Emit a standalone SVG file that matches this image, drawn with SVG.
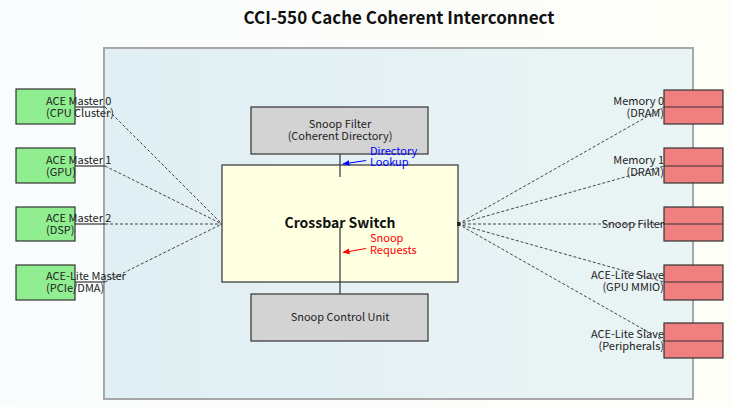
<svg xmlns="http://www.w3.org/2000/svg" width="731" height="407" viewBox="0 0 731 407">
<defs>
<linearGradient id="bg" x1="0" y1="0" x2="1" y2="0"><stop offset="0" stop-color="#f9fcfd"/><stop offset="1" stop-color="#fefef8"/></linearGradient>
<linearGradient id="cont" x1="0" y1="0" x2="1" y2="0"><stop offset="0" stop-color="#e0eff4"/><stop offset="1" stop-color="#eaf4f4"/></linearGradient>
<marker id="ab" viewBox="0 0 10 10" refX="9" refY="5" markerWidth="6" markerHeight="6" orient="auto"><path d="M0,1 L10,5 L0,9 z" fill="#0000ff"/></marker>
<marker id="ar" viewBox="0 0 10 10" refX="9" refY="5" markerWidth="6" markerHeight="6" orient="auto"><path d="M0,1 L10,5 L0,9 z" fill="#ff0000"/></marker>
</defs>
<style>
text{font-family:"Noto Sans CJK SC","Noto Sans",sans-serif;fill:#222;}
.t{font-size:11px;}
.box{stroke:#333;stroke-width:1.2;}
.m{fill:#90ee90;}
.s{fill:#f08080;}
.g{fill:#d3d3d3;}
.d{stroke:#444;stroke-width:1;stroke-dasharray:3,2;fill:none;}
.l{stroke:#333;stroke-width:1.2;fill:none;}
</style>
<rect x="0" y="0" width="731" height="407" fill="url(#bg)"/>
<text x="399" y="24" text-anchor="middle" style="font-size:17px;font-weight:bold;fill:#111">CCI-550 Cache Coherent Interconnect</text>
<g id="container"><rect x="104" y="48" width="589" height="351" fill="url(#cont)" stroke="#a8a8a8" stroke-width="2"/></g>

<g id="snoop-filter"><rect class="box g" x="251" y="107" width="177" height="47"/>
<text class="t" x="340" y="128" text-anchor="middle">Snoop Filter</text>
<text class="t" x="340" y="140" text-anchor="middle">(Coherent Directory)</text></g>
<g id="crossbar"><rect class="box" x="222" y="165" width="236" height="117" fill="#ffffe2"/>
<text x="340" y="228" text-anchor="middle" style="font-size:14px;font-weight:bold;fill:#111">Crossbar Switch</text></g>
<g id="scu"><rect class="box g" x="251" y="294" width="177" height="47"/>
<text class="t" x="340" y="321" text-anchor="middle">Snoop Control Unit</text></g>
<g id="lbl-dir"><text class="t" x="370" y="155" style="fill:#0000ff">Directory</text><text class="t" x="370" y="166" style="fill:#0000ff">Lookup</text></g>
<g id="lbl-snoop"><text class="t" x="370" y="242" style="fill:#ff0000">Snoop</text><text class="t" x="370" y="254" style="fill:#ff0000">Requests</text></g>

<g id="m0"><rect class="box m" x="16" y="89" width="59" height="35"/><text class="t" x="46" y="105">ACE Master 0</text><text class="t" x="46" y="117">(CPU Cluster)</text></g>
<g id="m1"><rect class="box m" x="16" y="148" width="59" height="35"/><text class="t" x="46" y="164">ACE Master 1</text><text class="t" x="46" y="176">(GPU)</text></g>
<g id="m2"><rect class="box m" x="16" y="207" width="59" height="34"/><text class="t" x="46" y="222">ACE Master 2</text><text class="t" x="46" y="234">(DSP)</text></g>
<g id="m3"><rect class="box m" x="16" y="265" width="59" height="35"/><text class="t" x="46" y="280">ACE-Lite Master</text><text class="t" x="46" y="292">(PCIe/DMA)</text></g>

<g id="s0"><rect class="box s" x="664" y="90" width="59" height="34"/><line class="l" x1="664" y1="107" x2="723" y2="107"/><text class="t" x="664" y="105" text-anchor="end">Memory 0</text><text class="t" x="664" y="117" text-anchor="end">(DRAM)</text></g>
<g id="s1"><rect class="box s" x="664" y="148" width="59" height="35"/><line class="l" x1="664" y1="166" x2="723" y2="166"/><text class="t" x="664" y="164" text-anchor="end">Memory 1</text><text class="t" x="664" y="176" text-anchor="end">(DRAM)</text></g>
<g id="s2"><rect class="box s" x="664" y="207" width="59" height="34"/><line class="l" x1="664" y1="224" x2="723" y2="224"/><text class="t" x="664" y="228" text-anchor="end">Snoop Filter</text></g>
<g id="s3"><rect class="box s" x="664" y="265" width="59" height="35"/><line class="l" x1="664" y1="282" x2="723" y2="282"/><text class="t" x="664" y="279" text-anchor="end">ACE-Lite Slave</text><text class="t" x="664" y="291" text-anchor="end">(GPU MMIO)</text></g>
<g id="s4"><rect class="box s" x="664" y="323" width="59" height="35"/><line class="l" x1="664" y1="341" x2="723" y2="341"/><text class="t" x="664" y="338" text-anchor="end">ACE-Lite Slave</text><text class="t" x="664" y="350" text-anchor="end">(Peripherals)</text></g>

<g id="connectors">
<line class="l" x1="75" y1="107" x2="105" y2="107"/>
<line class="l" x1="75" y1="166" x2="105" y2="166"/>
<line class="l" x1="75" y1="224" x2="105" y2="224"/>
<line class="l" x1="75" y1="282" x2="105" y2="282"/>
<line class="d" x1="105" y1="107" x2="222" y2="224"/>
<line class="d" x1="105" y1="166" x2="222" y2="224"/>
<line class="d" x1="105" y1="224" x2="222" y2="224"/>
<line class="d" x1="105" y1="282" x2="222" y2="224"/>
<line class="d" x1="458" y1="224" x2="664" y2="107"/>
<line class="d" x1="458" y1="224" x2="664" y2="166"/>
<line class="d" x1="458" y1="224" x2="664" y2="224"/>
<line class="d" x1="458" y1="224" x2="664" y2="282"/>
<line class="d" x1="458" y1="224" x2="664" y2="341"/>
<line class="l" x1="340" y1="154" x2="340" y2="177"/>
<line class="l" x1="340" y1="227" x2="340" y2="294"/>
<line x1="366" y1="160.5" x2="343" y2="164" stroke="#0000ff" stroke-width="1.2" marker-end="url(#ab)"/>
<line x1="366" y1="248.5" x2="343" y2="252.5" stroke="#ff0000" stroke-width="1.2" marker-end="url(#ar)"/>
<rect x="457" y="222" width="3" height="4" fill="#222"/>
</g>
</svg>
